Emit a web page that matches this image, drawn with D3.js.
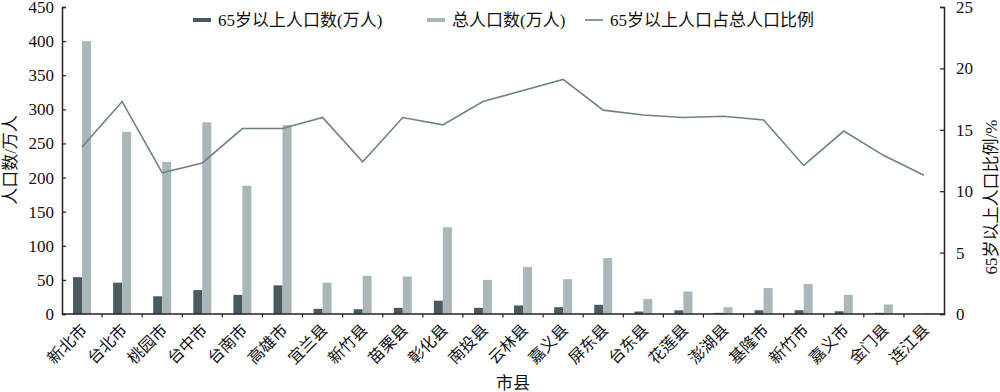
<!DOCTYPE html>
<meta charset="utf-8">
<style>
	body { margin: 0; background: #fff; }
	svg { display: block; font-family: "Liberation Serif", "Noto Sans CJK SC", serif; }
</style>
<svg width="1000" height="392"></svg>
<script src="https://d3js.org/d3.v7.min.js"></script>
<script>
var cities = ["新北市","台北市","桃园市","台中市","台南市","高雄市","宜兰县","新竹县","苗栗县","彰化县","南投县","云林县","嘉义县","屏东县","台东县","花莲县","澎湖县","基隆市","新竹市","嘉义市","金门县","连江县"];
var elderly = [54,46,26,35,28,42,7.5,7,9,19.5,9,12.5,10,13.5,3.6,5.4,1.7,5.5,5.5,4,1.7,0.2];
var total = [400,267,223,281,188,277,46,56,55,127,50,69,51,82,22,33,10,38,44,28,14,1];
var ratio = [13.6,17.3,11.5,12.3,15.1,15.1,16.0,12.4,16.0,15.4,17.3,18.2,19.1,16.6,16.2,16.0,16.1,15.8,12.1,14.9,12.9,11.3];
var leftTicks = [0,50,100,150,200,250,300,350,400,450];
var rightTicks = [0,5,10,15,20,25];

var svg = d3.select("svg"),
	plotL = 62, plotR = 944, plotT = 7, plotB = 314;

var dark = "#4b5a61", light = "#a9b7bb", lineColor = "#6d8189";

var x = d3.scaleBand().domain(cities).range([plotL, plotR]);
var y = d3.scaleLinear().domain([0, 450]).range([plotB, plotT]);
var y2 = d3.scaleLinear().domain([0, 25]).range([plotB, plotT]);

// bars
var g = svg.append("g");
g.selectAll("rect.old").data(cities).enter().append("rect")
	.attr("x", function(d){ return x(d) + x.bandwidth()/2 - 9; })
	.attr("width", 9)
	.attr("y", function(d,i){ return y(elderly[i]); })
	.attr("height", function(d,i){ return plotB - y(elderly[i]); })
	.attr("fill", dark);
g.selectAll("rect.tot").data(cities).enter().append("rect")
	.attr("x", function(d){ return x(d) + x.bandwidth()/2; })
	.attr("width", 9)
	.attr("y", function(d,i){ return y(total[i]); })
	.attr("height", function(d,i){ return plotB - y(total[i]); })
	.attr("fill", light);

// ratio line
var line = d3.line()
	.x(function(d,i){ return x(cities[i]) + x.bandwidth()/2; })
	.y(function(d){ return y2(d); });
svg.append("path").datum(ratio)
	.attr("fill","none").attr("stroke",lineColor).attr("stroke-width",1.6)
	.attr("d", line);

// axes
var la = svg.append("g").attr("transform","translate(" + plotL + ",0)")
	.call(d3.axisLeft(y).tickValues(leftTicks).tickSize(-4).tickPadding(8));
var ra = svg.append("g").attr("transform","translate(" + plotR + ",0)")
	.call(d3.axisRight(y2).tickValues(rightTicks).tickSize(-4).tickPadding(12));
[la, ra].forEach(function(a){
	a.select(".domain").attr("stroke","#222").attr("stroke-width",1.5);
	a.selectAll(".tick line").attr("stroke","#222").attr("stroke-width",1.2);
	a.selectAll("text").attr("font-size",17).attr("fill","#111")
		.attr("font-family","Liberation Serif");
});

// x axis
svg.append("line").attr("x1",plotL).attr("x2",plotR).attr("y1",plotB).attr("y2",plotB)
	.attr("stroke","#222").attr("stroke-width",1.5);
svg.append("g").selectAll("line").data(cities.slice(1)).enter().append("line")
	.attr("x1",function(d){ return x(d); }).attr("x2",function(d){ return x(d); })
	.attr("y1",plotB).attr("y2",plotB + 3.5)
	.attr("stroke","#222").attr("stroke-width",1.2);
svg.append("g").selectAll("text").data(cities).enter().append("text")
	.attr("transform",function(d){ return "translate(" + (x(d) + x.bandwidth()/2 + 6) + "," + (plotB + 17) + ") rotate(-45)"; })
	.attr("text-anchor","end")
	.attr("font-size",16)
	.attr("fill","#111")
	.text(function(d){ return d; });

// axis titles
svg.append("text").attr("x",513).attr("y",389).attr("text-anchor","middle")
	.attr("font-size",17).attr("fill","#111").text("市县");
svg.append("text").attr("transform","translate(16,160) rotate(-90)").attr("text-anchor","middle")
	.attr("font-size",17).attr("fill","#111").text("人口数/万人");
svg.append("text").attr("transform","translate(997,197) rotate(-90)").attr("text-anchor","middle")
	.attr("font-size",17).attr("fill","#111").text("65岁以上人口比例/%");

// legend
var legendNames = ["65岁以上人口数(万人)","总人口数(万人)","65岁以上人口占总人口比例"];
var legendX = [193, 427, 585];
var legendStyle = [[dark,4],[light,4],[lineColor,1.6]];
var lg = svg.append("g").selectAll("g").data(legendNames).enter().append("g")
	.attr("transform",function(d,i){ return "translate(" + legendX[i] + ",20)"; });
lg.append("line").attr("x1",0).attr("x2",18).attr("y1",0).attr("y2",0)
	.attr("stroke",function(d,i){ return legendStyle[i][0]; })
	.attr("stroke-width",function(d,i){ return legendStyle[i][1]; });
lg.append("text").attr("x",25).attr("y",6).attr("font-size",17).attr("fill","#111")
	.text(function(d){ return d; });
</script>
